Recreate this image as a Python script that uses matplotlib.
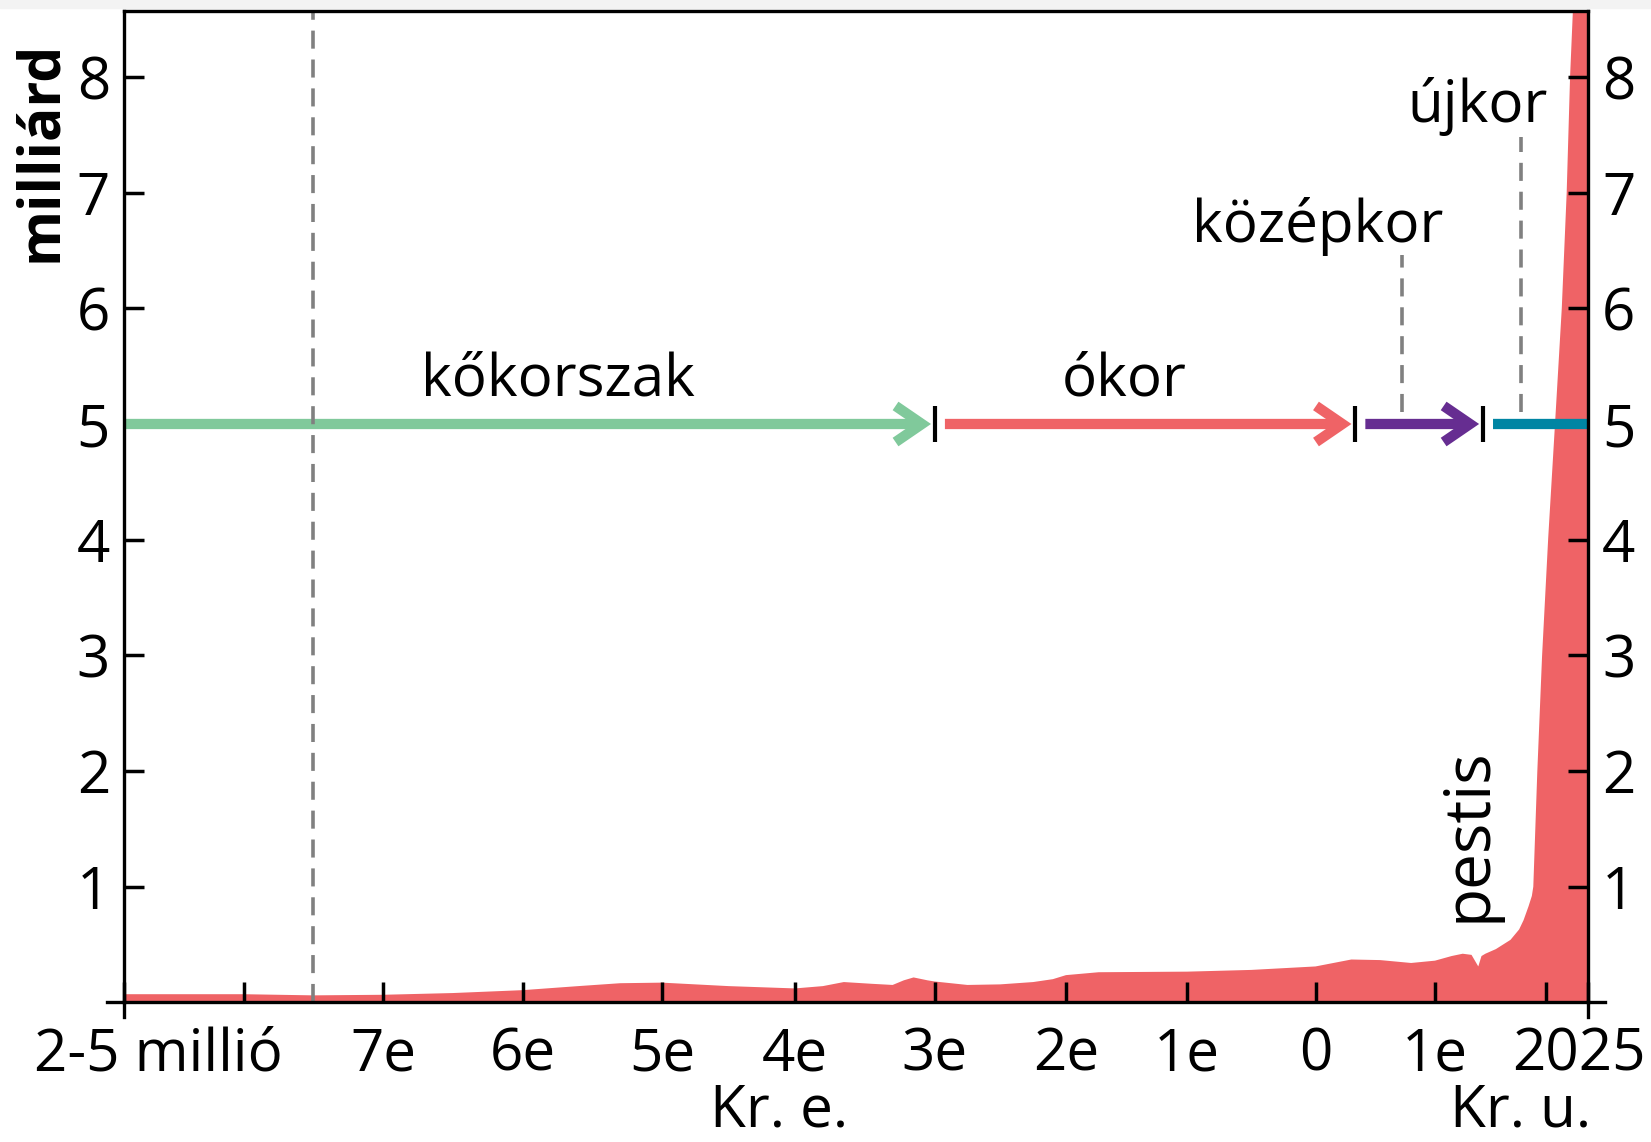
import numpy as np
import matplotlib
matplotlib.use("Agg")
import matplotlib.pyplot as plt
import matplotlib.transforms as mtransforms
from matplotlib.patches import Rectangle

plt.rcParams["font.family"] = ["Open Sans", "DejaVu Sans"]

# world population (billion) by year, negative years = BC
years = [-9000, -8000, -7500, -7000, -6500, -6000, -5600, -5300, -5000, -4500,
         -4000, -3800, -3650, -3450, -3300, -3220, -3150, -3050, -3000, -2750,
         -2500, -2250, -2100, -2000, -1730, -1000, -500, 0, 150, 300,
         540, 800, 1000, 1150, 1250, 1330, 1391, 1420, 1455, 1550,
         1682, 1760, 1800, 1845, 1875, 1888, 1924, 1967, 2001.5, 2005.5,
         2009.5, 2012.4, 2014.4, 2016, 2025]
population = [0.07, 0.07, 0.06, 0.065, 0.08, 0.105, 0.14, 0.165, 0.17, 0.14,
              0.12, 0.14, 0.175, 0.16, 0.15, 0.19, 0.215, 0.19, 0.18, 0.15,
              0.155, 0.175, 0.2, 0.235, 0.26, 0.265, 0.28, 0.31, 0.34, 0.37,
              0.365, 0.34, 0.36, 0.40, 0.42, 0.41, 0.31, 0.40, 0.42, 0.46,
              0.54, 0.63, 0.71, 0.83, 0.92, 1.0, 1.99, 2.99, 4.02, 5.0,
              6.0, 7.0, 8.0, 8.55, 10.5]

# time axis ticks
tick_years = [-9000, -8000, -7000, -6000, -5000, -4000, -3000, -2000, -1000, 0, 1000, 2000, 2025]
tick_labels = ["2-5 millió", "", "7e", "6e", "5e", "4e", "3e", "2e", "1e", "0", "1e", "", "2025"]

# periods
period_names = ["kőkorszak", "ókor", "középkor", "újkor"]
period_bounds = [-9000, -3000, 330, 1430, 2025]
period_colors = ["#80c99b", "#ef6366", "#662d91", "#0085a3"]

early_marker_year = -7500
middle_ages_mark = 724
modern_mark = 1773

area_color = "#ef6366"
dash_color = "#808080"

# the drawing's time axis is stretched unevenly: piecewise-linear warp
warp_pos = [124, 243.5, 383, 522.5, 662, 795, 934.5, 1066, 1187, 1315.5, 1435, 1545.7, 1588]


def fwd(x):
    return np.interp(x, tick_years, warp_pos)


def inv(p):
    return np.interp(p, warp_pos, tick_years)


fig = plt.figure(figsize=(16.51, 11.42), dpi=100)
fig.patches.append(Rectangle((0, 0.993), 1, 0.007, transform=fig.transFigure,
                             color="#f3f3f3", zorder=-5))
ax = fig.add_axes([124 / 1651, 1 - 1002.3 / 1142, (1588 - 124) / 1651, (1002.3 - 10.5) / 1142])

ax.set_xscale("function", functions=(fwd, inv))
ax.set_xlim(tick_years[0], tick_years[-1])
ax.set_ylim(0, 8.575)

ax.fill_between(years, 0, population, color=area_color, lw=0, zorder=1)

# dashed guides
dash = (0, (5, 3))
ax.plot([early_marker_year] * 2, [0, 8.575], ls=dash, lw=2.6, color=dash_color, zorder=2.2)
ax.plot([middle_ages_mark] * 2, [5.1, 6.46], ls=dash, lw=2.6, color=dash_color, zorder=2.2)
ax.plot([modern_mark] * 2, [5.1, 7.48], ls=dash, lw=2.6, color=dash_color, zorder=2.2)

# period arrows at y = 5
for i in range(4):
    a, b = period_bounds[i], period_bounds[i + 1]
    sa = 0 if i == 0 else 7.5
    if i < 3:
        style = "->,head_length=0.95,head_width=0.65"
        sb = 2.5
    else:
        style = "-"
        sb = 0
    ax.annotate("", xy=(b, 5), xytext=(a, 5),
                arrowprops=dict(arrowstyle=style, lw=7.4, color=period_colors[i],
                                shrinkA=sa, shrinkB=sb, mutation_scale=20,
                                capstyle="butt", joinstyle="miter"),
                zorder=2)
ax.plot(period_bounds[1:4], [5] * 3, ls="none", marker="|", ms=26, mew=3, color="black", zorder=5)

fs = 42
ax.text(-5745, 5.25, period_names[0], fontsize=fs, ha="center", va="baseline")
ax.text(-1516, 5.25, period_names[1], fontsize=fs, ha="center", va="baseline")
ax.text(21, 6.57, period_names[2], fontsize=fs, ha="center", va="baseline")
ax.text(1380, 7.61, period_names[3], fontsize=fs, ha="center", va="baseline")
ax.text(1300, 1.45, "pestis", fontsize=46, rotation=90, ha="center", va="center")

# axes styling
for s in ax.spines.values():
    s.set_linewidth(2.4)
    s.set_zorder(6)
ax.set_xticks(tick_years)
ax.set_xticklabels(tick_labels)
ax.set_yticks(range(1, 9))
ax.tick_params(axis="x", direction="in", length=14.5, width=2.5, labelsize=fs, pad=17)
ax.tick_params(axis="y", direction="in", length=14.5, width=2.5, labelsize=fs, pad=10,
               left=True, right=True, labelleft=True, labelright=True)
ax.minorticks_off()

lbls = ax.get_xticklabels()
lbls[0].set_transform(lbls[0].get_transform() + mtransforms.ScaledTranslation(34 / 100, 0, fig.dpi_scale_trans))
lbls[-1].set_transform(lbls[-1].get_transform() + mtransforms.ScaledTranslation(-9 / 100, 0, fig.dpi_scale_trans))

ax.annotate("Kr. e.", xy=(-4120, 0), xycoords=("data", "axes fraction"), xytext=(0, -89.5),
            textcoords="offset points", fontsize=fs, ha="center", va="baseline")
ax.annotate("Kr. u.", xy=(1777, 0), xycoords=("data", "axes fraction"), xytext=(0, -89.5),
            textcoords="offset points", fontsize=fs, ha="center", va="baseline")

fig.text(41 / 1651, 1 - 151 / 1142, "milliárd", fontsize=41, fontweight="bold",
         rotation=90, ha="center", va="center")

# little cross marks where the frame meets the time axis
for xa in (0, 1):
    ax.plot([xa, xa], [0, -0.015], transform=ax.transAxes, clip_on=False, color="k", lw=2.4)
ax.plot([-0.0116, 0], [0, 0], transform=ax.transAxes, clip_on=False, color="k", lw=2.4)
ax.plot([1, 1.0116], [0, 0], transform=ax.transAxes, clip_on=False, color="k", lw=2.4)

fig.savefig("out.png", dpi=100)
